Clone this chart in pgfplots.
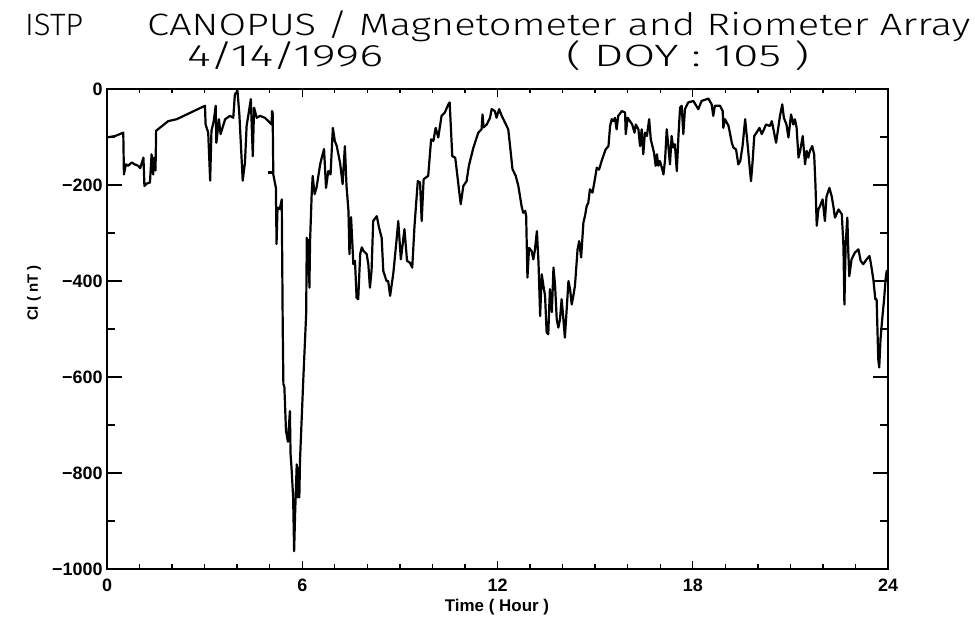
\documentclass[border=0pt]{standalone}
\usepackage{fontspec}
\setmainfont{Liberation Sans}
\newfontfamily\titlefont{Fira Sans Light}
\usepackage{graphicx}
\usepackage{pgfplots}
\pgfplotsset{compat=1.18}
\pgfplotstableread{
h v
0.00 -101
0.25 -98
0.50 -91
0.52 -178
0.58 -157
0.65 -160
0.76 -153
0.85 -157
0.96 -160
1.02 -165
1.12 -143
1.15 -202
1.22 -197
1.32 -195
1.37 -136
1.42 -178
1.45 -143
1.49 -170
1.51 -87
1.88 -67
2.14 -63
3.01 -35
3.03 -74
3.11 -91
3.17 -191
3.21 -87
3.28 -67
3.34 -35
3.36 -112
3.44 -63
3.49 -94
3.63 -63
3.78 -56
3.88 -60
3.93 -11
4.01 -4
4.07 -56
4.17 -191
4.24 -153
4.29 -77
4.34 -56
4.42 -21
4.48 -140
4.52 -39
4.60 -60
4.70 -56
4.85 -60
4.96 -67
5.06 -74
5.07 -46
5.09 -49
5.11 -178
5.19 -206
5.21 -323
5.24 -247
5.31 -250
5.37 -230
5.40 -497
5.42 -615
5.45 -620
5.50 -712
5.56 -735
5.62 -671
5.64 -760
5.67 -789
5.72 -851
5.75 -963
5.78 -886
5.83 -782
5.85 -851
5.88 -789
5.91 -851
5.93 -775
6.03 -608
6.12 -469
6.14 -310
6.17 -386
6.20 -314
6.22 -414
6.24 -317
6.29 -219
6.32 -181
6.38 -219
6.44 -205
6.55 -157
6.60 -143
6.67 -125
6.73 -206
6.80 -171
6.87 -178
6.94 -81
7.00 -108
7.06 -119
7.16 -153
7.24 -198
7.31 -119
7.36 -202
7.42 -254
7.45 -344
7.50 -267
7.57 -365
7.62 -358
7.67 -435
7.72 -438
7.78 -344
7.83 -330
7.88 -337
7.98 -344
8.03 -365
8.08 -414
8.13 -378
8.18 -275
8.29 -265
8.36 -289
8.44 -310
8.49 -379
8.59 -400
8.64 -400
8.70 -431
8.80 -383
8.90 -313
8.95 -275
9.03 -355
9.14 -292
9.22 -358
9.31 -362
9.38 -372
9.45 -285
9.55 -192
9.62 -195
9.67 -275
9.73 -188
9.87 -181
9.96 -105
10.03 -108
10.10 -81
10.18 -101
10.28 -56
10.38 -49
10.49 -32
10.53 -28
10.57 -84
10.61 -140
10.70 -143
10.75 -171
10.82 -212
10.87 -240
10.95 -202
11.05 -192
11.12 -160
11.26 -122
11.41 -91
11.51 -84
11.54 -53
11.57 -80
11.67 -74
11.77 -60
11.82 -42
11.92 -46
11.97 -60
12.05 -42
12.13 -56
12.23 -70
12.33 -84
12.38 -115
12.46 -167
12.56 -181
12.64 -202
12.74 -244
12.79 -258
12.85 -254
12.88 -264
12.92 -393
12.97 -331
13.05 -338
13.10 -355
13.15 -335
13.21 -296
13.26 -362
13.31 -473
13.36 -386
13.41 -410
13.46 -430
13.51 -507
13.56 -511
13.61 -417
13.67 -465
13.72 -372
13.77 -410
13.82 -480
13.87 -497
13.92 -480
13.97 -438
14.02 -476
14.07 -518
14.12 -465
14.18 -400
14.23 -417
14.28 -449
14.33 -431
14.38 -410
14.46 -334
14.51 -317
14.57 -351
14.64 -278
14.69 -264
14.74 -244
14.79 -237
14.84 -209
14.92 -216
15.00 -185
15.05 -164
15.12 -168
15.20 -150
15.32 -126
15.41 -119
15.46 -77
15.51 -63
15.56 -67
15.61 -60
15.66 -84
15.71 -56
15.82 -46
15.92 -49
15.94 -94
16.00 -60
16.07 -67
16.14 -74
16.21 -91
16.25 -74
16.33 -84
16.38 -119
16.43 -84
16.48 -136
16.53 -91
16.59 -98
16.66 -63
16.71 -105
16.76 -119
16.81 -133
16.86 -160
16.90 -136
16.94 -160
16.99 -150
17.05 -164
17.10 -178
17.15 -147
17.20 -84
17.25 -119
17.30 -157
17.35 -98
17.40 -122
17.45 -115
17.51 -171
17.56 -98
17.61 -39
17.66 -35
17.71 -94
17.76 -42
17.86 -28
18.02 -25
18.17 -42
18.27 -25
18.48 -20
18.58 -32
18.63 -56
18.68 -35
18.84 -35
18.92 -46
18.94 -81
18.99 -63
19.10 -77
19.20 -112
19.25 -122
19.33 -126
19.40 -157
19.46 -150
19.53 -119
19.61 -63
19.69 -119
19.75 -164
19.79 -192
19.84 -150
19.89 -98
19.96 -91
20.05 -81
20.12 -94
20.19 -84
20.25 -74
20.37 -77
20.43 -67
20.48 -84
20.56 -112
20.63 -80
20.68 -56
20.75 -32
20.80 -60
20.88 -74
20.94 -101
21.02 -53
21.09 -74
21.14 -63
21.19 -80
21.25 -143
21.30 -129
21.38 -98
21.45 -157
21.50 -129
21.55 -143
21.60 -129
21.67 -119
21.73 -136
21.77 -199
21.81 -285
21.86 -251
21.91 -244
21.99 -230
22.06 -275
22.11 -224
22.20 -206
22.27 -224
22.32 -244
22.37 -268
22.48 -251
22.58 -261
22.63 -327
22.66 -449
22.70 -320
22.75 -268
22.78 -340
22.81 -390
22.88 -355
22.98 -341
23.09 -334
23.16 -358
23.24 -365
23.34 -355
23.43 -348
23.47 -362
23.55 -397
23.61 -438
23.65 -438
23.70 -563
23.73 -580
23.77 -521
23.83 -473
23.88 -438
23.93 -393
23.96 -379
24.00 -400
}\cidata
\pgfplotstableread{
h v
4.96 -174
5.06 -174
}\cidash
\begin{document}
\begin{tikzpicture}[x=1bp,y=1bp]
\useasboundingbox (0,0) rectangle (975,621);
% main axis with plot and x ticks
\begin{axis}[
  at={(107bp,52bp)}, anchor=south west,
  scale only axis, width=781bp, height=480bp,
  xmin=0, xmax=24, ymin=-1000, ymax=0,
  xtick={0,6,12,18,24}, xticklabels={0,6,12,18,24},
  minor x tick num=5,
  ytick=\empty,
  major tick length=8bp, minor tick length=4.5bp,
  tick align=inside,
  tick style={black, line width=1.4bp},
  axis line style={line width=2bp},
  xticklabel style={font=\fontsize{18}{20}\selectfont\bfseries, yshift=-6bp},
  clip=true,
]
\addplot[black, line width=2.2bp, line join=round] table[x=h,y=v]{\cidata};
\addplot[black, line width=2.2bp] table[x=h,y=v]{\cidash};
\end{axis}
% overlay axis for y ticks
\begin{axis}[
  at={(107bp,52bp)}, anchor=south west,
  scale only axis, width=781bp, height=480bp,
  xmin=0, xmax=24, ymin=-1000, ymax=0,
  xtick=\empty,
  ytick={-1000,-800,-600,-400,-200,0},
  yticklabels={−1000,−800,−600,−400,−200,0},
  minor y tick num=1,
  major tick length=15bp, minor tick length=8bp,
  tick align=inside,
  tick style={black, line width=1.4bp},
  axis line style={line width=2bp},
  yticklabel style={font=\fontsize{18}{20}\selectfont\bfseries, xshift=-1bp},
]
\end{axis}
% axis labels
\node[rotate=90, font=\fontsize{15}{15}\selectfont\bfseries] at (34,328) {CI ( nT )};
\node[font=\fontsize{17}{17}\selectfont\bfseries] at (497,14) {Time ( Hour )};
% title
\node[anchor=base west, inner sep=0] at (25,585) {\resizebox{58bp}{\height}{\fontsize{31}{31}\titlefont ISTP}};
\node[anchor=base west, inner sep=0] at (147,585) {\resizebox{823bp}{\height}{\fontsize{31}{31}\titlefont CANOPUS / Magnetometer and Riometer Array}};
\node[anchor=base west, inner sep=0] at (187,554) {\resizebox{196bp}{\height}{\fontsize{31}{31}\titlefont 4/14/1996}};
\node[anchor=base west, inner sep=0] at (566,554) {\resizebox{243bp}{\height}{\fontsize{31}{31}\titlefont ( DOY : 105 )}};
\end{tikzpicture}
\end{document}
